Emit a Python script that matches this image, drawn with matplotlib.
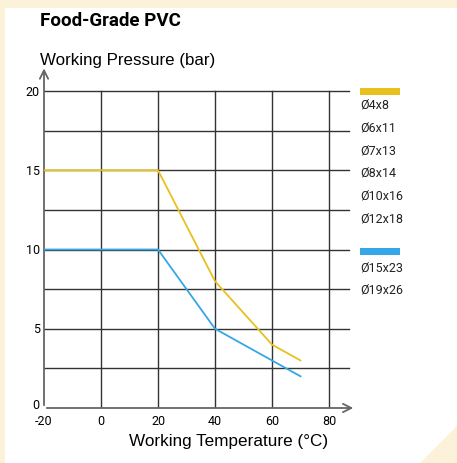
import matplotlib
matplotlib.use('Agg')
import matplotlib.pyplot as plt
from matplotlib.patches import Rectangle, Polygon

# data
temps_yellow = [-20, 20, 40, 60, 70]
press_yellow = [15, 15, 8, 4, 3]
temps_blue = [-20, 20, 40, 60, 70]
press_blue = [10, 10, 5, 3, 2]
x_ticks = [-20, 0, 20, 40, 60, 80]
y_ticks = [0, 5, 10, 15, 20]
labels_yellow = ['Ø4x8', 'Ø6x11', 'Ø7x13', 'Ø8x14', 'Ø10x16', 'Ø12x18']
labels_blue = ['Ø15x23', 'Ø19x26']

yellow = '#E8C11E'
blue = '#35A7E6'
cream = '#FBF2D9'
narrow = ['Roboto', 'DejaVu Sans']

plt.rcParams['font.family'] = ['Liberation Sans', 'DejaVu Sans']

fig = plt.figure(figsize=(4.57, 4.64), dpi=100)
fig.patch.set_facecolor(cream)

# white panel and the cream corner triangle
fig.patches.append(Rectangle((5 / 457, 0), 1, 1 - 9 / 464, transform=fig.transFigure,
                             facecolor='white', edgecolor='none', zorder=-2))
fig.patches.append(Polygon([(420 / 457, 0), (1, 0), (1, 37 / 464)], closed=True,
                           transform=fig.transFigure, facecolor=cream, edgecolor='none', zorder=-1))

ax = fig.add_axes([44 / 457, 55 / 464, 313.5 / 457, 348.7 / 464])
ax.set_zorder(1)
ax.set_xlim(-20, 90)
ax.set_ylim(0, 22)
ax.patch.set_alpha(0)
for s in ax.spines.values():
    s.set_visible(False)
ax.set_xticks([])
ax.set_yticks([])

# grid
for y in [2.5 * i for i in range(1, 9)]:
    ax.plot([-20, 87], [y, y], color='#333333', lw=1.0, zorder=1)
for x in x_ticks[1:]:
    ax.plot([x, x], [0, 20], color='#333333', lw=1.0, zorder=1)

# series
ax.plot(temps_yellow, press_yellow, color=yellow, lw=1.3, zorder=3)
ax.plot(temps_blue, press_blue, color=blue, lw=1.3, zorder=3)

# axes with open arrows
ax.annotate('', xy=(89.5, 0), xytext=(-20, 0),
            arrowprops=dict(arrowstyle='->', color='#666666', lw=1.3, mutation_scale=15), zorder=2)
ax.annotate('', xy=(-20, 21.6), xytext=(-20, 0),
            arrowprops=dict(arrowstyle='->', color='#666666', lw=1.3, mutation_scale=15), zorder=2)

for x in x_ticks:
    ax.text(x, -0.4, str(x), ha='center', va='top', fontsize=9, family=narrow)
for y in y_ticks:
    ax.text(-21.5, y + (0.2 if y == 0 else 0), str(y), ha='right', va='center', fontsize=9,
            family=narrow)

fig.text(40 / 457, 1 - 21 / 464, 'Food-Grade PVC', fontsize=13.5, fontweight='bold',
         family=narrow, va='center', ha='left')
fig.text(40 / 457, 1 - 60 / 464, 'Working Pressure (bar)', fontsize=12.2, va='center', ha='left')
fig.text(229 / 457, 1 - 442 / 464, 'Working Temperature (°C)', fontsize=12.3, va='center', ha='center')

# legend on the right
fig.patches.append(Rectangle((360 / 457, 1 - 96 / 464), 40 / 457, 7 / 464, transform=fig.transFigure,
                             facecolor=yellow, edgecolor='none'))
for i, lab in enumerate(labels_yellow):
    fig.text(360 / 457, 1 - (105 + 22.8 * i) / 464, lab, fontsize=9, family=narrow,
             va='center', ha='left', color='#222222')
fig.patches.append(Rectangle((360 / 457, 1 - 256 / 464), 40 / 457, 7 / 464, transform=fig.transFigure,
                             facecolor=blue, edgecolor='none'))
for i, lab in enumerate(labels_blue):
    fig.text(360 / 457, 1 - (268 + 22.5 * i) / 464, lab, fontsize=9, family=narrow,
             va='center', ha='left', color='#222222')

fig.savefig('out.png', dpi=100, facecolor=fig.get_facecolor())
